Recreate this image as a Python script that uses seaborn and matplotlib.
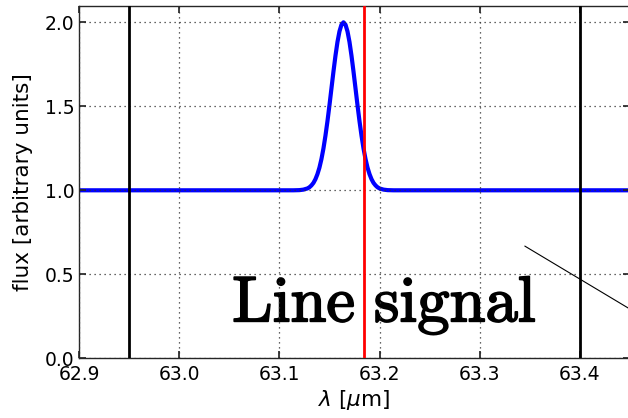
import matplotlib
matplotlib.use("Agg")
import matplotlib.pyplot as plt
import matplotlib.patheffects as pe
import seaborn as sns
import pandas as pd

# ---- data ----
wavelength = [62.900, 63.114, 63.120, 63.124, 63.128, 63.130, 63.132, 63.134, 63.136,
              63.138, 63.140, 63.142, 63.144, 63.146, 63.148, 63.150, 63.152, 63.154,
              63.156, 63.158, 63.160, 63.162, 63.164, 63.166, 63.168, 63.170, 63.172,
              63.174, 63.176, 63.178, 63.180, 63.182, 63.184, 63.186, 63.188, 63.190,
              63.192, 63.194, 63.196, 63.198, 63.200, 63.204, 63.208, 63.214, 63.460]
flux = [1.000, 1.000, 1.001, 1.004, 1.011, 1.018, 1.029, 1.044, 1.066,
        1.096, 1.135, 1.186, 1.249, 1.325, 1.411, 1.506, 1.607, 1.707,
        1.801, 1.883, 1.946, 1.986, 2.000, 1.986, 1.946, 1.883, 1.801,
        1.707, 1.607, 1.506, 1.411, 1.325, 1.249, 1.186, 1.135, 1.096,
        1.066, 1.044, 1.029, 1.018, 1.011, 1.004, 1.001, 1.000, 1.000]
window_edges = [62.95, 63.40]      # black vertical lines
rest_wavelength = 63.184           # red vertical line
diag_x = [63.345, 63.455]
diag_y = [0.668, 0.275]
x_ticks = [62.9, 63.0, 63.1, 63.2, 63.3, 63.4]
y_ticks = [0.0, 0.5, 1.0, 1.5, 2.0]
label_text = "Line signal"
label_pos = (63.053, 0.218)

sns.set_theme(style="ticks", rc={
    "axes.edgecolor": "0.15",
    "axes.linewidth": 1.0,
    "xtick.direction": "in",
    "ytick.direction": "in",
    "xtick.top": True,
    "ytick.right": True,
    "xtick.major.size": 5,
    "ytick.major.size": 5,
    "xtick.major.pad": 5,
    "xtick.color": "0.15",
    "ytick.color": "0.15",
    "xtick.labelcolor": "black",
    "ytick.labelcolor": "black",
    "axes.labelcolor": "black",
    "axes.axisbelow": False,
})
plt.rcParams["font.family"] = ["DejaVu Sans"]

fig = plt.figure(figsize=(6.28, 4.18), dpi=100)
ax = fig.add_axes([79 / 628, 1 - 358.3 / 418, 551 / 628, (358.3 - 5.5) / 418])

df = pd.DataFrame({"wavelength": wavelength, "flux": flux})
sns.lineplot(data=df, x="wavelength", y="flux", ax=ax, color="blue", linewidth=3,
             estimator=None, sort=False, zorder=2)

for xe in window_edges:
    ax.axvline(xe, color="black", linewidth=2, zorder=3)
ax.axvline(rest_wavelength, color="red", linewidth=2, zorder=3)

ax.plot(diag_x, diag_y, color="black", linewidth=0.8, zorder=3, clip_on=False)

ax.text(label_pos[0], label_pos[1], r"$\mathrm{" + label_text.replace(" ", r"\ ") + "}$",
        fontsize=46.5, math_fontfamily="cm", color="black", zorder=2,
        path_effects=[pe.withStroke(linewidth=1.3, foreground="black")])

ax.set_xlim(62.9, 63.45)
ax.set_ylim(0, 2.1)
ax.set_xticks(x_ticks)
ax.set_yticks(y_ticks)
ax.set_xticklabels([f"{t:.1f}" for t in x_ticks])
ax.set_yticklabels([f"{t:.1f}" for t in y_ticks])
ax.tick_params(labelsize=13.5)
ax.grid(True, linestyle=(0, (1, 3)), color="0.2", linewidth=0.9)
ax.set_xlabel(r"$\lambda$ [$\mu$m]", fontsize=15.5, labelpad=3)
ax.set_ylabel("flux [arbitrary units]", fontsize=15.5, labelpad=8)

fig.savefig("out.png", dpi=100)
